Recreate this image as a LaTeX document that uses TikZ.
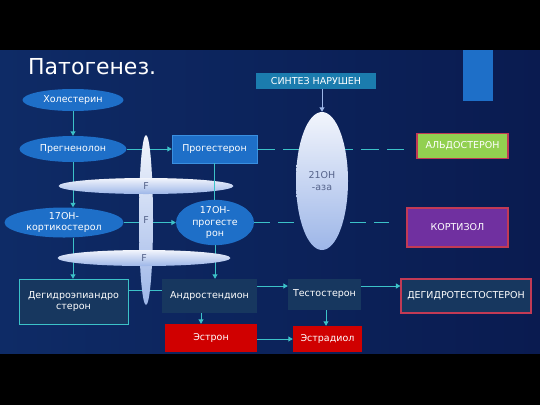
\documentclass[tikz,border=0pt]{standalone}
\usepackage{fontspec}
\setmainfont{DejaVu Sans}
\usetikzlibrary{shapes.geometric,arrows.meta}
\definecolor{bgleft}{HTML}{0E2B66}
\definecolor{bgmid}{HTML}{2C6D92}
\definecolor{bgright}{HTML}{0A1B50}
\definecolor{ovalblue}{HTML}{1E6FC8}
\definecolor{boxedge}{HTML}{3A8FE0}
\definecolor{linecyan}{HTML}{3CC2C8}
\definecolor{darkbox}{HTML}{17375F}
\definecolor{crimson}{HTML}{C23A55}
\definecolor{estred}{HTML}{D00000}
\definecolor{aldogreen}{HTML}{92D050}
\definecolor{kortpurple}{HTML}{7030A0}
\definecolor{sintblue}{HTML}{1B7CAE}
\definecolor{enztop}{HTML}{F2F5FC}
\definecolor{enzbot}{HTML}{9DB6E8}
\definecolor{enztext}{HTML}{55638A}
\begin{document}
\begin{tikzpicture}[x=1pt,y=-1pt,
    every node/.style={font=\fontsize{9.5}{11.5}\selectfont, text=white, align=center, inner sep=0pt},
    oval/.style={ellipse, fill=ovalblue},
    box/.style={rectangle},
    enzyme/.style={ellipse, top color=enztop, bottom color=enzbot, text=enztext},
    link/.style={draw=linecyan, line width=1pt},
    >={Triangle[length=4.5pt,width=5pt]}]
    \useasboundingbox (0,0) rectangle (540,405);
    \fill[black] (0,0) rectangle (540,405);
    \shade[left color=bgleft, middle color=bgmid, right color=bgright] (0,50) rectangle (540,353);

    \node[anchor=base west, font=\fontsize{22}{26}\selectfont] (title) at (28,74) {Патогенез.};
    \node[box, fill=ovalblue, minimum width=30, minimum height=51] (corner) at (478,75.5) {};

    \node[oval, minimum width=101, minimum height=22] (chol) at (73,100) {Холестерин};
    \node[oval, minimum width=107, minimum height=26] (preg) at (73,149) {Прегненолон};
    \node[box, fill=ovalblue, draw=boxedge, minimum width=85, minimum height=28] (prog) at (214.5,149) {Прогестерон};
    \node[oval, minimum width=119, minimum height=30] (kort) at (64,222.5) {17ОН-\\кортикостерол};
    \node[oval, minimum width=78, minimum height=37] (ohprog) at (215,222.5) {17ОН-\\прогесте\\рон};
    \node[box, fill=darkbox, draw=linecyan, minimum width=109, minimum height=45] (dhea) at (73.5,301.5) {Дегидроэпиандро\\стерон};
    \node[box, fill=darkbox, minimum width=95, minimum height=34] (andr) at (209.5,296) {Андростендион};
    \node[box, fill=darkbox, minimum width=73, minimum height=31] (test) at (324.5,294.5) {Тестостерон};
    \node[box, fill=darkbox, draw=crimson, line width=1.2pt, minimum width=130, minimum height=34] (dht) at (466,296) {ДЕГИДРОТЕСТОСТЕРОН};
    \node[box, fill=estred, minimum width=92, minimum height=28] (estr) at (211,338) {Эстрон};
    \node[box, fill=estred, minimum width=69, minimum height=26] (estd) at (327.5,339) {Эстрадиол};
    \node[box, fill=aldogreen, draw=crimson, line width=1.2pt, minimum width=91, minimum height=25] (aldo) at (462.5,146) {АЛЬДОСТЕРОН};
    \node[box, fill=kortpurple, draw=crimson, line width=1.2pt, minimum width=101, minimum height=39] (kortiz) at (457.5,227.5) {КОРТИЗОЛ};
    \node[box, fill=sintblue, minimum width=120, minimum height=16] (sint) at (316,81) {СИНТЕЗ НАРУШЕН};

    \draw[link,->] (chol) -- (preg);
    \draw[link,->] (preg) -- (prog);
    \draw[link,->] (preg.south) -- (preg.south |- kort.north);
    \draw[link,->] (kort) -- (ohprog);
    \draw[link,->] (kort.south -| chol) -- (dhea.north -| chol);
    \draw[link,->] (ohprog.south) -- (ohprog.south |- andr.north);
    \draw[link] (dhea.east |- 0,290) -- (andr.west |- 0,290);
    \draw[link,->] (andr.east |- 0,286) -- (test.west |- 0,286);
    \draw[link,->] (test.east |- 0,286) -- (dht.west |- 0,286);
    \draw[link,->] (andr.south -| 201,0) -- (estr.north -| 201,0);
    \draw[link,->] (test.south -| 326,0) -- (estd.north -| 326,0);
    \draw[link,->] (estr.east |- estd) -- (estd);
    \draw[link, dash pattern=on 18pt off 8pt, shorten >=12pt] (prog.east) -- (prog.east -| aldo.west);
    \draw[link, dash pattern=on 16pt off 8pt, shorten >=17pt] (ohprog.east) -- (ohprog.east -| kortiz.west);

    \node[enzyme, minimum width=14, minimum height=170] (fvert) at (146,220) {F};
    \node[enzyme, minimum width=175, minimum height=16] (fup) at (146,186) {F};
    \node[enzyme, minimum width=173, minimum height=16] (fdown) at (144,258) {F};
    \draw[link] (prog) -- (prog |- ohprog.north);

    \node[enzyme, minimum width=52, minimum height=138] (enz) at (322,181) {21ОН\\-аза};
    \draw[draw=enzbot, line width=1pt, ->] (sint.south -| enz) -- (enz.north);
\end{tikzpicture}
\end{document}
